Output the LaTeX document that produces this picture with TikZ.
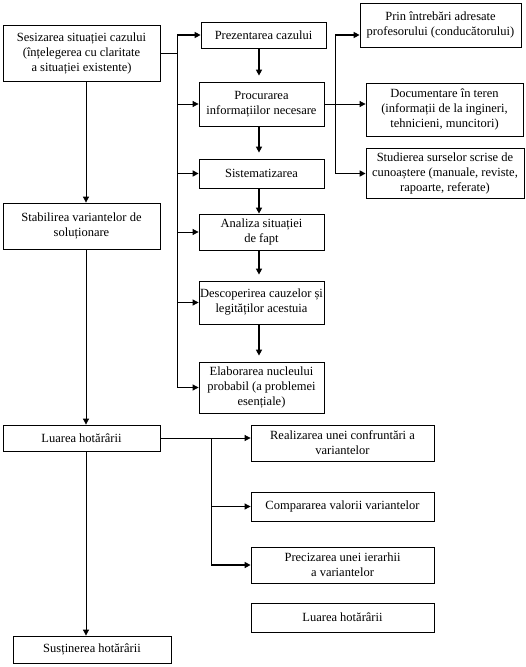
\documentclass[tikz,border=0pt]{standalone}
\usepackage{fontspec}
\setmainfont{Liberation Serif}
\usetikzlibrary{arrows.meta}
\tikzset{flbox/.style={draw,line width=0.8pt,align=center,inner sep=1pt,
    font=\fontsize{12.5}{15}\selectfont}}
\tikzset{flline/.style={line width=0.8pt}}
\tikzset{flarrow/.style={line width=0.8pt,
    -{Stealth[length=6pt,width=6pt,inset=0pt]}}}
\tikzset{flarrowB/.style={line width=1.6pt,
    -{Stealth[length=6pt,width=6pt,inset=0pt]}}}
\tikzset{fldown/.style={flarrowB,shorten >=6pt}}

\begin{document}
\begin{tikzpicture}[x=1pt,y=-1pt]

\useasboundingbox (0,0) rectangle (526,667);

\pgfmathsetmacro{\xspine}{86}
\pgfmathsetmacro{\xmid}{259}
\pgfmathsetmacro{\xbusL}{177}
\pgfmathsetmacro{\xbusR}{335}
\pgfmathsetmacro{\xbusB}{211}

\coordinate (spine) at (\xspine,0);
\coordinate (mid) at (\xmid,0);
\coordinate (busL) at (\xbusL,0);
\coordinate (busR) at (\xbusR,0);
\coordinate (busB) at (\xbusB,0);

% coloana din stanga
\node[flbox,minimum width=157pt,minimum height=56pt] (sesiz) at (81.5,53)
    {Sesizarea situației cazului\\(înțelegerea cu claritate\\a situației existente)};
\node[flbox,minimum width=157pt,minimum height=46pt] (stabil) at (81.5,226)
    {Stabilirea variantelor de\\soluționare};
\node[flbox,minimum width=157pt,minimum height=26pt] (luarea) at (81.5,438)
    {Luarea hotărârii};
\node[flbox,minimum width=158pt,minimum height=27pt] (sustin) at (92,649.5)
    {Susținerea hotărârii};

% coloana din mijloc
\node[flbox,minimum width=125pt,minimum height=26pt] (prez) at (263.5,35)
    {Prezentarea cazului};
\node[flbox,minimum width=125pt,minimum height=44pt] (procur) at (261.5,104)
    {Procurarea\\informațiilor necesare};
\node[flbox,minimum width=125pt,minimum height=29pt] (sistem) at (261.5,173.5)
    {Sistematizarea};
\node[flbox,minimum width=125pt,minimum height=36pt] (analiza) at (261.5,232)
    {Analiza situației\\de fapt};
\node[flbox,minimum width=125pt,minimum height=43pt] (descop) at (261.5,302.5)
    {Descoperirea cauzelor și\\legităților acestuia};
\node[flbox,minimum width=125pt,minimum height=51pt] (elab) at (261.5,387.5)
    {Elaborarea nucleului\\probabil (a problemei\\esențiale)};

% coloana din dreapta
\node[flbox,minimum width=161pt,minimum height=44pt] (prin) at (440.5,25)
    {Prin întrebări adresate\\profesorului (conducătorului)};
\node[flbox,minimum width=157pt,minimum height=53pt] (docum) at (444.5,109.5)
    {Documentare în teren\\(informații de la ingineri,\\tehnicieni, muncitori)};
\node[flbox,minimum width=158pt,minimum height=50pt] (studiu) at (445,173)
    {Studierea surselor scrise de\\cunoaștere (manuale, reviste,\\rapoarte, referate)};

% jos
\node[flbox,minimum width=183pt,minimum height=36pt] (realiz) at (342.5,443)
    {Realizarea unei confruntări a\\variantelor};
\node[flbox,minimum width=183pt,minimum height=29pt] (compar) at (342.5,506.5)
    {Compararea valorii variantelor};
\node[flbox,minimum width=183pt,minimum height=36pt] (preciz) at (342.5,565)
    {Precizarea unei ierarhii\\a variantelor};
\node[flbox,minimum width=183pt,minimum height=29pt] (luarea2) at (342.5,617.5)
    {Luarea hotărârii};

% axa principala
\draw[flarrow] (sesiz.south -| spine) -- (stabil.north -| spine);
\draw[flarrow] (stabil.south -| spine) -- (luarea.north -| spine);
\draw[flarrow] (luarea.south -| spine) -- (sustin.north -| spine);

% magistrala stanga
\draw[flline] (sesiz.east) -- (busL |- sesiz.east);
\draw[flline] (busL |- prez.west) -- (busL |- elab.west);
\draw[flarrowB] (busL |- prez.west) -- (prez.west);
\draw[flarrow] (busL |- procur.west) -- (procur.west);
\draw[flarrowB] (busL |- sistem.west) -- (sistem.west);
\draw[flarrow] (busL |- analiza.west) -- (analiza.west);
\draw[flarrow] (busL |- descop.west) -- (descop.west);
\draw[flarrow] (busL |- elab.west) -- (elab.west);

% sageti intre etape
\draw[fldown] (prez.south -| mid) -- (procur.north -| mid);
\draw[fldown] (procur.south -| mid) -- (sistem.north -| mid);
\draw[flarrowB] (sistem.south -| mid) -- (analiza.north -| mid);
\draw[fldown] (analiza.south -| mid) -- (descop.north -| mid);
\draw[fldown] (descop.south -| mid) -- (elab.north -| mid);

% magistrala dreapta
\draw[flline] (procur.east) -- (busR |- procur.east);
\draw[flline] (busR |- prez.west) -- (busR |- sistem.west);
\draw[flarrowB] (busR |- prez.west) -- (prin.west |- prez.west);
\draw[flarrow] (busR |- procur.east) -- (docum.west |- procur.east);
\draw[flarrowB] (busR |- sistem.west) -- (studiu.west |- sistem.west);

% magistrala de jos
\draw[flarrow] (luarea.east) -- (realiz.west |- luarea.east);
\draw[flline] (busB |- luarea.east) -- (busB |- preciz.west);
\draw[flarrow] (busB |- compar.west) -- (compar.west);
\draw[flarrowB] (busB |- preciz.west) -- (preciz.west);

\end{tikzpicture}
\end{document}
